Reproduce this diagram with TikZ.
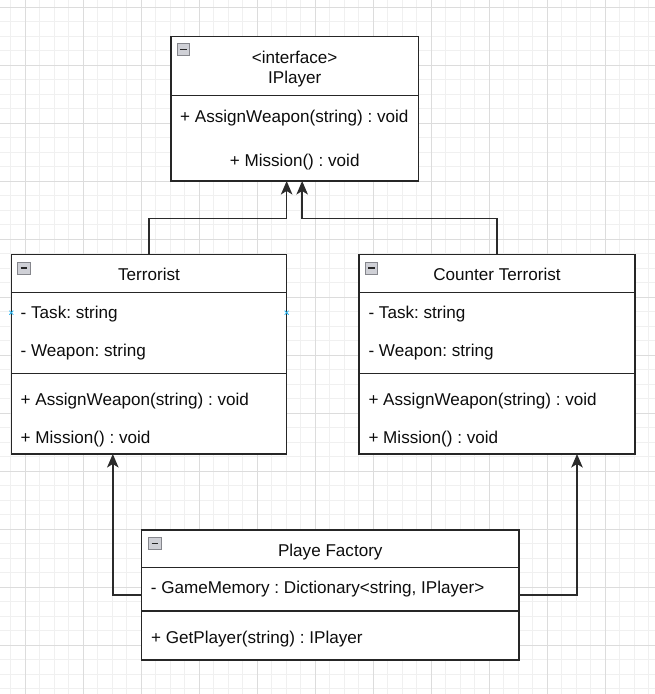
\documentclass[tikz,border=0pt]{standalone}
\usepackage{fontspec}
\setmainfont{Liberation Sans}
\usetikzlibrary{arrows.meta,calc}
\frenchspacing

\definecolor{gridminor}{HTML}{F0F0F0}
\definecolor{gridmajor}{HTML}{DCDCDC}
\definecolor{edgecol}{HTML}{2B2B2B}
\definecolor{boxcol}{HTML}{262626}
\definecolor{textcol}{HTML}{0D0D0D}
\definecolor{pincol}{HTML}{29B6F2}
\definecolor{iconfill}{HTML}{CFD0D6}
\definecolor{iconline}{HTML}{85868C}

\newcommand\umlfont{\fontsize{17.1}{20}\selectfont}

\tikzset{
  classbox/.style={draw=boxcol, line width=1.3pt, fill=white, rectangle,
    anchor=north west, inner sep=0pt, outer sep=0pt},
  divider/.style={draw=boxcol, line width=1.3pt},
  member/.style={anchor=base west, inner sep=0pt, text=textcol, font=\umlfont},
  heading/.style={anchor=base, inner sep=0pt, text=textcol, font=\umlfont},
  link/.style={draw=edgecol, line width=1.6pt,
    -{Stealth[length=13.5pt,width=11.5pt,inset=3.5pt]}},
  pinmark/.style={draw=pincol, line width=0.8pt},
  collapse/.pic={
    \draw[iconline, fill=iconfill, line width=0.8pt] (0,0) rectangle (12.5,12);
    \draw[black!85, line width=1.6pt] (3,6) -- (9.5,6);
  },
}

\begin{document}
\begin{tikzpicture}[x=1pt, y=-1pt]
  \useasboundingbox (0,0) rectangle (655,694);

  % background grid
  \begin{scope}
    \clip (0,0) rectangle (655,694);
    \foreach \k in {0,...,46}
      \draw[gridminor, line width=0.8pt] ({-3.7+14.5*\k},0) -- ++(0,694);
    \foreach \k in {0,...,49}
      \draw[gridminor, line width=0.8pt] (0,{-7.2+14.5*\k}) -- ++(655,0);
    \foreach \k in {0,...,11}
      \draw[gridmajor, line width=0.9pt] ({25.3+58*\k},0) -- ++(0,694);
    \foreach \k in {0,...,12}
      \draw[gridmajor, line width=0.9pt] (0,{7.3+58*\k}) -- ++(655,0);
  \end{scope}

  % interface IPlayer
  \node[classbox, minimum width=247.3pt, minimum height=144.3pt] (ip) at (171,36.7) {};
  \draw[divider] (171,95.7) -- (418.3,95.7);
  \pic at (177,43.5) {collapse};
  \node[heading] (ipstereo) at (294.7,63.3) {<interface>};
  \node[heading] (ipname) at (294.7,83.3) {IPlayer};
  \node[member] (ipm1) at (180,122.3) {+ AssignWeapon(string) : void};
  \node[heading] (ipm2) at (294.7,166.7) {+ Mission() : void};

  % class Terrorist
  \node[classbox, minimum width=275.4pt, minimum height=199.7pt] (terr) at (11.3,254.3) {};
  \draw[divider] (11.3,292.3) -- (286.7,292.3);
  \draw[divider] (11.3,373.3) -- (286.7,373.3);
  \pic at (17.5,262) {collapse};
  \node[heading] (terrname) at (149,280) {Terrorist};
  \node[member] (terra1) at (20.5,318.3) {- Task: string};
  \node[member] (terra2) at (20.5,356) {- Weapon: string};
  \node[member] (terrm1) at (20.5,405.3) {+ AssignWeapon(string) : void};
  \node[member] (terrm2) at (20.5,443.3) {+ Mission() : void};
  \draw[pinmark] (9.3,310.7) -- (13.3,314.7) (9.3,314.7) -- (13.3,310.7);
  \draw[pinmark] (284.7,310.7) -- (288.7,314.7) (284.7,314.7) -- (288.7,310.7);

  % class Counter Terrorist
  \node[classbox, minimum width=276pt, minimum height=199.7pt] (ct) at (359,254.3) {};
  \draw[divider] (359,292.3) -- (635,292.3);
  \draw[divider] (359,373.3) -- (635,373.3);
  \pic at (365,262) {collapse};
  \node[heading] (ctname) at (497,280) {Counter Terrorist};
  \node[member] (cta1) at (368.3,318.3) {- Task: string};
  \node[member] (cta2) at (368.3,356) {- Weapon: string};
  \node[member] (ctm1) at (368.3,405.3) {+ AssignWeapon(string) : void};
  \node[member] (ctm2) at (368.3,443.3) {+ Mission() : void};

  % class Playe Factory
  \node[classbox, minimum width=377.3pt, minimum height=130pt] (fac) at (141.7,530) {};
  \draw[divider] (141.7,567.7) -- (519,567.7);
  \draw[divider] (141.7,611) -- (519,611);
  \pic at (148.5,537.5) {collapse};
  \node[heading] (facname) at (330.3,556.7) {Playe Factory};
  \node[member] (faca1) at (150.7,593.3) {- GameMemory : Dictionary<string, IPlayer>};
  \node[member] (facm1) at (151,643.3) {+ GetPlayer(string) : IPlayer};

  % realization links to the interface
  \draw[link] (terr.north) -- ++(0,-36) -| ($(ip.south)+(-8,0)$);
  \draw[link] (ct.north) -- ++(0,-36) -| ($(ip.south)+(7.5,0)$);

  % factory links to the concrete players
  \draw[link] ($(fac.north west)+(0,65)$) -| ($(terr.south west)+(101.5,0)$);
  \draw[link] ($(fac.north east)+(0,65)$) -| ($(ct.south west)+(218,0)$);
\end{tikzpicture}
\end{document}
